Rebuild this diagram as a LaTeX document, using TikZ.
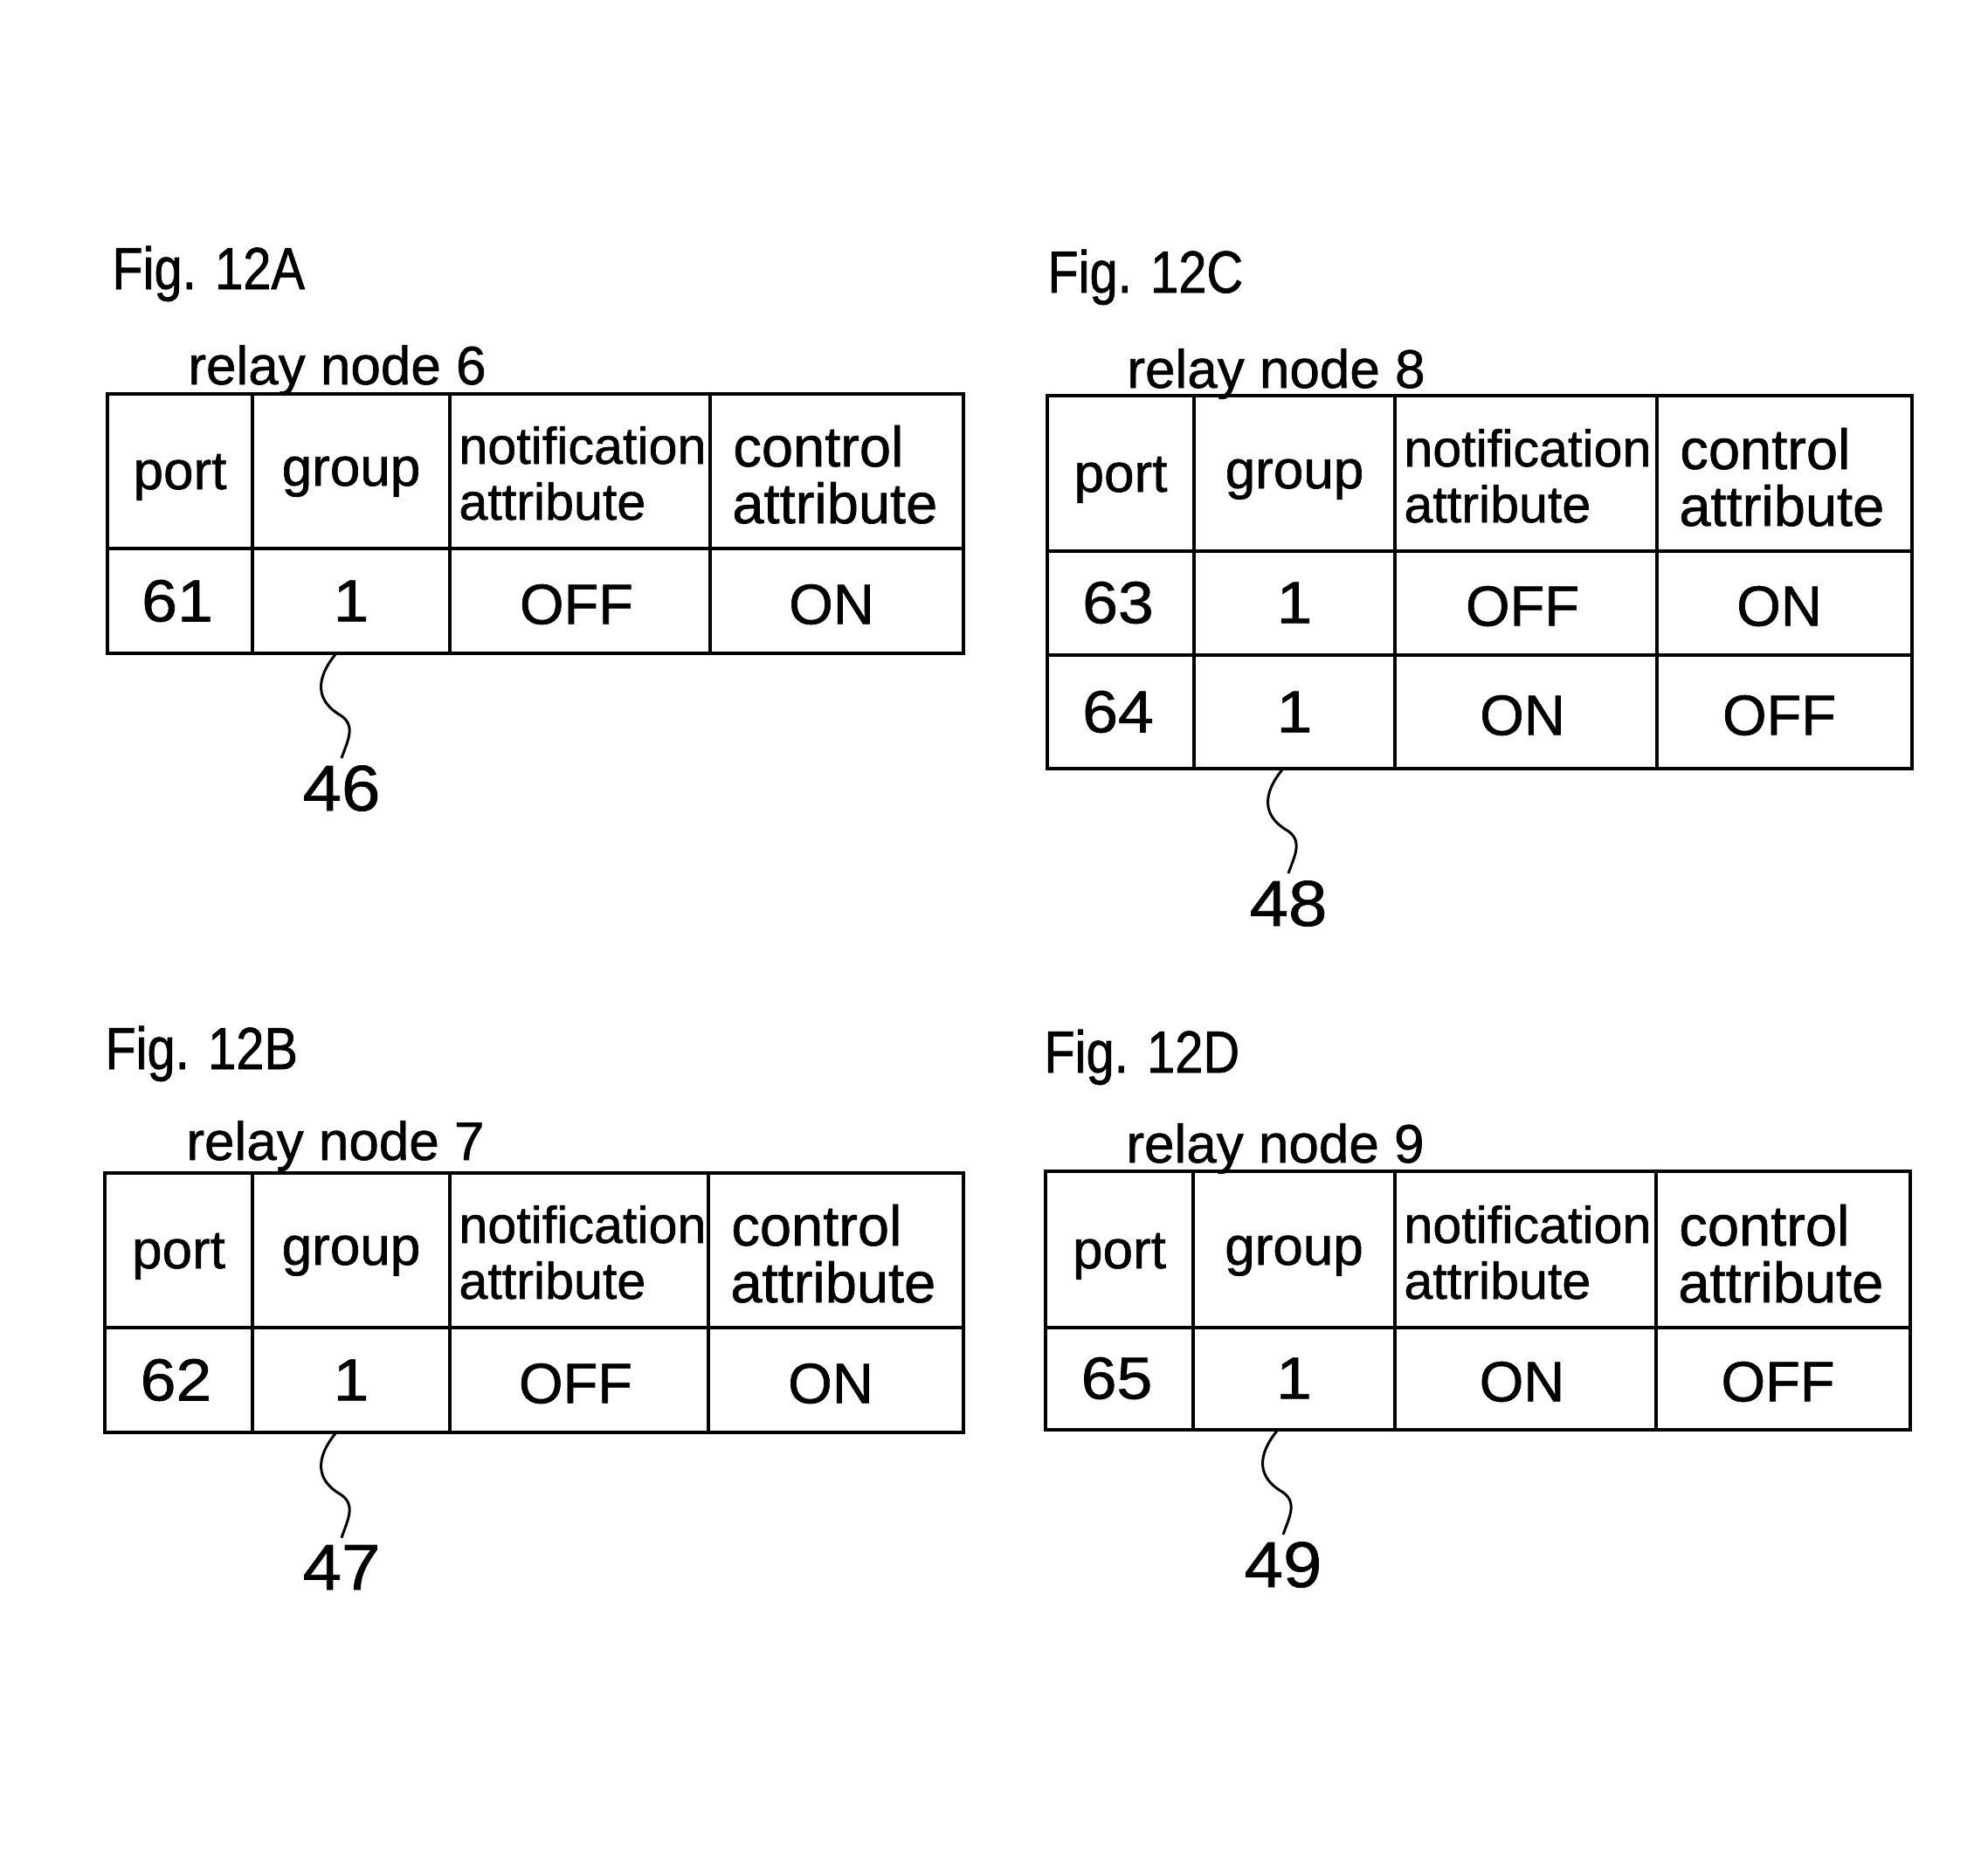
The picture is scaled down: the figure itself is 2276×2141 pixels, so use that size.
\documentclass[tikz,border=0pt]{standalone}
\usepackage{fontspec}
\setmainfont{Liberation Sans}[FakeBold=1]
\newfontfamily\figfont[FakeStretch=0.85,FakeBold=1]{Liberation Sans}
\newfontfamily\digfont[FakeStretch=1.08,FakeBold=1]{Liberation Sans}
\newcommand\settable[8]{\def\qqL{#1}\def\qqA{#2}\def\qqB{#3}\def\qqC{#4}\def\qqR{#5}\def\qqT{#6}\def\qqH{#7}\def\qqBot{#8}}
\newcommand\drawgrid{%
  \draw[grid] (\qqL,\qqT) rectangle (\qqR,\qqBot);
  \draw[grid] (\qqL,\qqH) -- (\qqR,\qqH);
  \draw[grid] (\qqA,\qqT) -- (\qqA,\qqBot);
  \draw[grid] (\qqB,\qqT) -- (\qqB,\qqBot);
  \draw[grid] (\qqC,\qqT) -- (\qqC,\qqBot);
}
\newcommand\headrow[1]{%
  \node[hdrc] (#1-port) at ({(\qqL+\qqA)/2},\qqH-68) {port};
  \node[hdrc] (#1-group) at ({(\qqA+\qqB)/2},\qqH-72) {group};
  \node[hdr] (#1-notif) at (\qqB+10,\qqH-97) {notification};
  \node[hdr] (#1-nattr) at (\qqB+10,\qqH-33) {attribute};
  \node[hdrw] (#1-ctrl) at (\qqC+26,\qqH-94) {control};
  \node[hdrw] (#1-cattr) at (\qqC+25,\qqH-29) {attribute};
}
\newcommand\datarow[6]{%
  \node[val] (#1-p) at ({(\qqL+\qqA)/2-3},#2) {#3};
  \node[val] (#1-g) at ({(\qqA+\qqB)/2},#2) {#4};
  \node[word] (#1-n) at ({(\qqB+\qqC)/2-4},#2+4) {#5};
  \node[word] (#1-c) at ({(\qqC+\qqR)/2-6},#2+4) {#6};
}
\newcommand\leader[4]{%
  \coordinate (#1-ls) at (#2,#3);
  \node[refnum] (#1-ref) at (#2+6,#3+180) {#4};
  \draw[leader] (#1-ls) .. controls (#2-25,#3+30) and (#2-23,#3+55) .. (#2+5,#3+71)
     .. controls (#2+23,#3+83) and (#2+13,#3+100) .. ([yshift=4pt]#1-ref.north);
}
\begin{document}
\begin{tikzpicture}[x=0.5pt,y=-0.5pt,
  grid/.style={line width=2.1pt},
  hdr/.style={font=\fontsize{29.6}{32}\selectfont, inner sep=0pt, anchor=base west},
  hdrw/.style={font=\fontsize{32.5}{34}\selectfont, inner sep=0pt, anchor=base west},
  hdrc/.style={font=\fontsize{31}{33}\selectfont, inner sep=0pt, anchor=base},
  val/.style={font=\digfont\fontsize{34}{36}\selectfont, inner sep=0pt, anchor=center},
  word/.style={font=\fontsize{32.5}{36}\selectfont, inner sep=0pt, anchor=center},
  title/.style={font=\figfont\fontsize{34}{36}\selectfont, inner sep=0pt, anchor=base west},
  relay/.style={font=\fontsize{31}{33}\selectfont, inner sep=0pt, anchor=base west},
  refnum/.style={font=\digfont\fontsize{37}{40}\selectfont, inner sep=0pt, anchor=base},
  leader/.style={line width=1.5pt}]
\useasboundingbox (0,0) rectangle (2276,2141);

% ---- Fig. 12A
\node[title] (tA) at (128,331) {Fig. 12A};
\settable{123}{289}{515}{813}{1103}{451}{628}{748}
\node[relay] (rA) at (215,440) {relay node 6};
\drawgrid
\headrow{A}
\datarow{A1}{688}{61}{1}{OFF}{ON}
\leader{A}{385}{748}{46}

% ---- Fig. 12C
\node[title] (tC) at (1199,335) {Fig. 12C};
\settable{1199}{1367}{1597}{1897}{2189}{453}{631}{880}
\node[relay] (rC) at (1290,444) {relay node 8};
\drawgrid
\draw[grid] (\qqL,750) -- (\qqR,750);
\headrow{C}
\datarow{C1}{690}{63}{1}{OFF}{ON}
\datarow{C2}{815}{64}{1}{ON}{OFF}
\leader{C}{1469}{880}{48}

% ---- Fig. 12B
\node[title] (tB) at (120,1224) {Fig. 12B};
\settable{120}{289}{515}{811}{1103}{1343}{1520}{1640}
\node[relay] (rB) at (213,1328) {relay node 7};
\drawgrid
\headrow{B}
\datarow{B1}{1580}{62}{1}{OFF}{ON}
\leader{B}{385}{1640}{47}

% ---- Fig. 12D
\node[title] (tD) at (1195,1228) {Fig. 12D};
\settable{1197}{1366}{1597}{1896}{2187}{1341}{1520}{1637}
\node[relay] (rD) at (1289,1331) {relay node 9};
\drawgrid
\headrow{D}
\datarow{D1}{1578}{65}{1}{ON}{OFF}
\leader{D}{1463}{1637}{49}
\end{tikzpicture}
\end{document}
